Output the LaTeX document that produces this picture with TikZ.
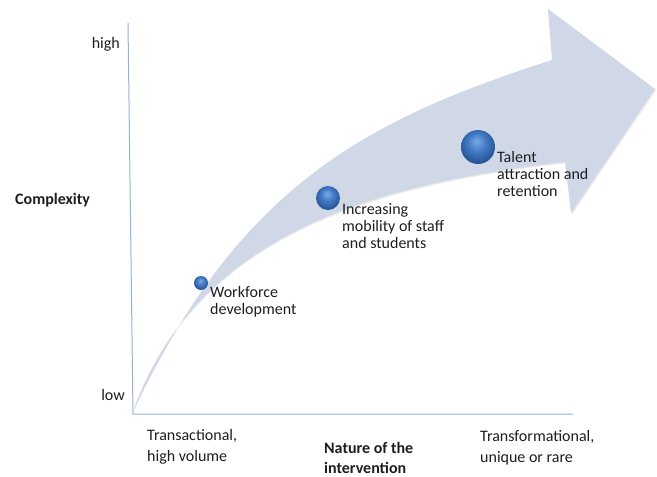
\documentclass[tikz,border=0pt]{standalone}
\usepackage{fontspec}
\setmainfont{Carlito}
\definecolor{bandfill}{RGB}{208,216,232}
\definecolor{axisblue}{RGB}{149,179,215}
\definecolor{dotlight}{RGB}{120,170,230}
\definecolor{dotmid}{RGB}{65,120,195}
\definecolor{dotdark}{RGB}{40,85,150}
\definecolor{txt}{RGB}{30,30,30}
\pgfdeclareradialshading{dotshade}{\pgfpoint{-2bp}{9bp}}{color(0bp)=(dotlight); color(14bp)=(dotmid); color(27bp)=(dotdark); color(50bp)=(dotdark)}
\begin{document}
\begin{tikzpicture}[x=1pt,y=-1pt,
  lbl/.style={font=\fontsize{16}{17}\selectfont, text=txt, align=left, inner sep=0pt, anchor=base west},
  axislbl/.style={font=\fontsize{16}{21}\selectfont, text=txt, align=left, inner sep=0pt, anchor=base west},
  boldlbl/.style={font=\fontsize{16}{20}\selectfont\bfseries, text=txt, align=left, inner sep=0pt, anchor=base west},
  dot/.style={circle, inner sep=0pt, shading=dotshade},
  axis/.style={draw=axisblue, line width=1pt},
  band/.style={fill=bandfill},
  bandshadow/.style={fill=black, opacity=0.08}]
\useasboundingbox (0,0) rectangle (657,477);
% axes
\coordinate (ytop) at (128,23);
\coordinate (origin) at (133,414);
\coordinate (xend) at (573,414);
\draw[axis] (ytop) -- (origin) -- (xend);
% curved arrow
\coordinate (tail) at (132,414);
\fill[bandshadow, shift={(1.2,1.2)}] (tail) .. controls (238,187) and (365,120) .. (552,60)
  -- (548,9) -- (655,89) -- (571,213) -- (565,162)
  .. controls (370,185) and (195,235) .. (tail) -- cycle;
\fill[band] (tail) .. controls (238,187) and (365,120) .. (552,60)
  -- (548,9) -- (655,89) -- (571,213) -- (565,162)
  .. controls (370,185) and (195,235) .. (tail) -- cycle;
% dots
\node[dot, minimum size=14pt] (wf) at (201,283) {};
\node[dot, minimum size=24pt] (mob) at (328,198) {};
\node[dot, minimum size=34pt] (tal) at (478,147) {};
% labels (base = baseline of last line)
\node[lbl] (wft) at (210,314.5) {Workforce\\development};
\node[lbl] (mobt) at (342,248) {Increasing\\mobility of staff\\and students};
\node[lbl] (talt) at (497,196.5) {Talent\\attraction and\\retention};
\node[lbl, anchor=base east] (high) at (120,48) {high};
\node[lbl, anchor=base east] (low) at (125,400) {low};
\node[boldlbl] (cx) at (15,204) {Complexity};
\node[axislbl] (tr) at (147,461) {Transactional,\\high volume};
\node[axislbl] (tf) at (480,462) {Transformational,\\unique or rare};
\node[boldlbl] (nat) at (324,473) {Nature of the\\intervention};
\end{tikzpicture}
\end{document}
